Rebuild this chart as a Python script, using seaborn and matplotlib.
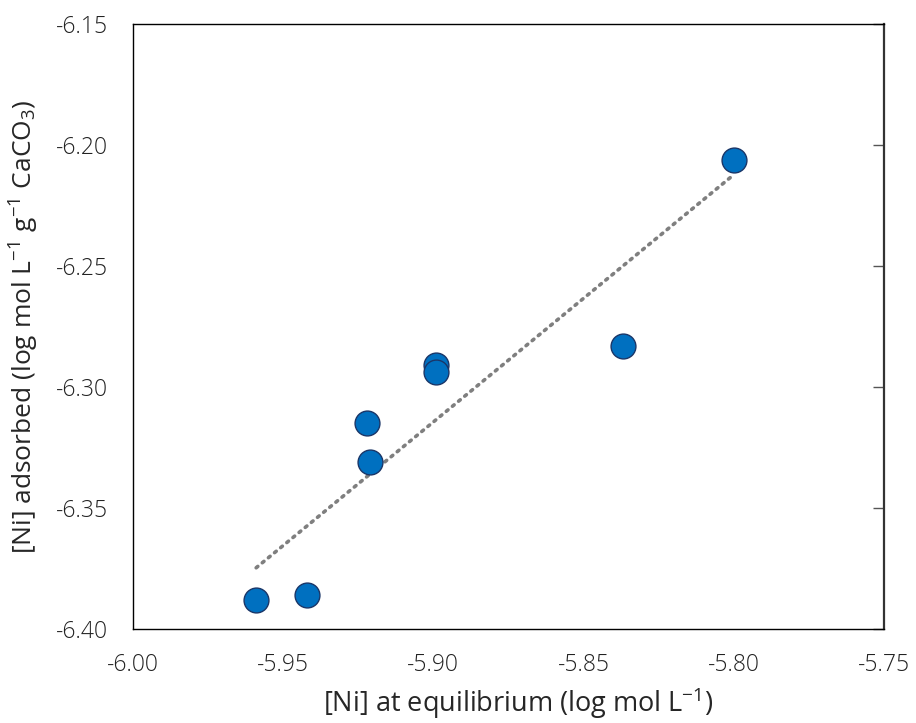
import matplotlib
matplotlib.use("Agg")
import matplotlib.pyplot as plt
import seaborn as sns
import pandas as pd

# Data
ni_equilibrium = [-5.959, -5.942, -5.922, -5.921, -5.899, -5.899, -5.837, -5.800]
ni_adsorbed = [-6.388, -6.386, -6.315, -6.331, -6.291, -6.294, -6.283, -6.206]
x_ticks = [-6.00, -5.95, -5.90, -5.85, -5.80, -5.75]
y_ticks = [-6.40, -6.35, -6.30, -6.25, -6.20, -6.15]

df = pd.DataFrame({"eq": ni_equilibrium, "ads": ni_adsorbed})

sns.set_style("white")
plt.rcParams["font.family"] = ["Open Sans", "DejaVu Sans"]
plt.rcParams["mathtext.fontset"] = "custom"
plt.rcParams["mathtext.rm"] = "Open Sans"
plt.rcParams["mathtext.it"] = "Open Sans"
plt.rcParams["mathtext.default"] = "regular"

fig = plt.figure(figsize=(9.16, 7.23), dpi=100)
ax = fig.add_axes([0.1452, 0.130, 0.8198, 0.8368])

# Linear trend line (dotted gray)
sns.regplot(data=df, x="eq", y="ads", ax=ax, ci=None, scatter=False,
            line_kws={"color": "#7f7f7f", "linestyle": (0, (0.6, 1.6)),
                      "linewidth": 2.6, "dash_capstyle": "round"})

# Data points
sns.scatterplot(data=df, x="eq", y="ads", ax=ax, s=320, color="#0070C0",
                edgecolor="#1a3668", linewidth=1.0, zorder=3)

ax.set_xlim(-6.00, -5.75)
ax.set_ylim(-6.40, -6.15)
ax.set_xticks(x_ticks)
ax.set_yticks(y_ticks)
ax.set_xticklabels([f"{v:.2f}" for v in x_ticks], fontsize=16.5, fontweight="light", color="#222222")
ax.set_yticklabels([f"{v:.2f}" for v in y_ticks], fontsize=16.5, fontweight="light", color="#222222")

ax.tick_params(axis="x", length=0, pad=17)
ax.tick_params(axis="y", which="both", left=False, right=True, direction="in",
               length=8, width=1, color="#555555", pad=18)

for side in ["left", "bottom", "top"]:
    ax.spines[side].set_color("black")
    ax.spines[side].set_linewidth(1.0)
ax.spines["right"].set_color("#333333")
ax.spines["right"].set_linewidth(1.6)

ax.set_xlabel("[Ni] at equilibrium (log mol L$^{-1}$)", fontsize=19.5)
ax.set_ylabel("[Ni] adsorbed (log mol L$^{-1}$ g$^{-1}$ CaCO$_{3}$)", fontsize=19)
ax.xaxis.set_label_coords(0.513, -0.094)
ax.yaxis.set_label_coords(-0.123, 0.5)

fig.savefig("out.png", dpi=100)
